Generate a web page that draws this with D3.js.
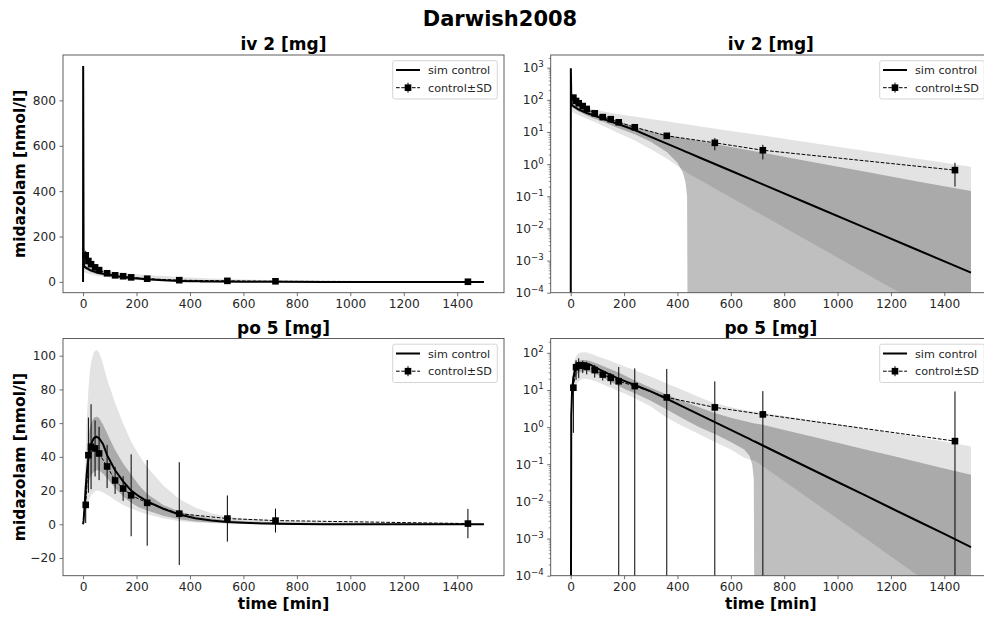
<!DOCTYPE html>
<html>
<head>
<meta charset="utf-8">
<script src="https://cdn.jsdelivr.net/npm/d3@7"></script>
<style>
  body { margin: 0; background: #fff; }
  svg { display: block; }
  text { font-family: "DejaVu Sans", sans-serif; }
</style>
</head>
<body>
<svg width="984" height="619"></svg>
<script>
// observed data (Darwish2008), time in min, midazolam in nmol/l
var obsTime = [10, 20, 30, 45, 60, 90, 120, 150, 180, 240, 360, 540, 720, 1440];
var ivObs   = [117, 92, 78, 64, 52, 38, 29, 25, 20, 14, 7.6, 4.6, 2.7, 0.65];
var ivObsSd = [20, 16, 12, 10, 8, 5, 4, 3.5, 3, 2.2, 1.5, 1.9, 1.3, 0.45];
var poObs   = [11.5, 41, 46, 45, 42, 34.3, 26, 21.2, 17.2, 12.7, 6.3, 3.4, 2.2, 0.42];
var poObsSd = [10.8, 22.3, 25.2, 16.6, 15.8, 12.8, 8, 7.3, 24.3, 25.4, 30.5, 13.7, 7.1, 8.7];

// simulation iv 2 mg
var ivSimTime  = [0, 0.5, 2, 4, 10, 20, 30, 45, 60, 90, 120, 150, 180, 240, 300, 360, 400, 420, 430, 436, 440, 480, 600, 720, 900, 1100, 1300, 1500];
var ivSimMean  = [0, 952, 150, 69, 63, 56, 50, 44, 39, 32, 26, 21, 17.3, 11.5, 7.06, 4.34, 3.14, 2.67, 2.46, 2.34, 2.27, 1.64, 0.62, 0.234, 0.0545, 0.0108, 0.00213, 0.00042];
var ivSimSdUp  = [0, 952, 160, 80, 72, 64, 58, 51, 46, 38, 31, 26, 21.5, 14.5, 10.5, 7.9, 6.9, 6.4, 6.2, 6.0, 5.97, 5.2, 3.4, 2.24, 1.19, 0.59, 0.29, 0.146];
var ivSimSdLow = [0, 952, 140, 60, 55, 49, 43, 37.5, 32.5, 26, 21, 16.5, 13, 8.5, 5.0, 2.4, 1.1, 0.55, 0.28, 0.1, -0.02, -0.3, -0.6, -0.5, -0.3, -0.2, -0.12, -0.08];
var ivSimMin   = [0, 900, 120, 42, 40, 36, 33, 29, 26, 20.5, 15.5, 12, 9.2, 5.4, 2.9, 1.5, 0.88, 0.67, 0.59, 0.54, 0.51, 0.333, 0.092, 0.0252, 0.00364, 4.2e-4, 4.9e-5, 5.8e-6];
var ivSimMax   = [0, 952, 200, 90, 86, 80, 74, 66, 59, 50, 44, 39.5, 35.9, 30.2, 25.5, 21.5, 19.1, 18.1, 17.6, 17.3, 17.1, 15.2, 10.8, 7.7, 4.6, 2.6, 1.47, 0.83];

// simulation po 5 mg
var poSimTime  = [0, 2, 5, 10, 15, 20, 25, 30, 40, 50, 60, 75, 90, 105, 120, 150, 180, 210, 240, 300, 360, 420, 480, 540, 600, 650, 670, 680, 686, 690, 720, 800, 900, 1000, 1100, 1200, 1300, 1400, 1500];
var poSimMean  = [0, 2, 9, 22, 32, 39, 44, 47.5, 51, 52, 51, 47.5, 41, 36.5, 32, 25.5, 20, 16.5, 13.6, 9.2, 5.8, 3.57, 2.2, 1.36, 0.84, 0.56, 0.48, 0.44, 0.42, 0.41, 0.32, 0.167, 0.0746, 0.0333, 0.0149, 0.00665, 0.00297, 0.00133, 0.00059];
var poSimSdUp  = [0, 3, 12, 30, 43, 51, 57, 60, 63, 64, 63, 59, 54, 49, 44, 36, 29.5, 23, 18, 11.5, 7.6, 5.0, 3.4, 2.4, 1.8, 1.45, 1.35, 1.3, 1.27, 1.25, 1.16, 0.84, 0.57, 0.38, 0.255, 0.171, 0.115, 0.077, 0.052];
var poSimSdLow = [0, 1, 6, 14, 20, 24, 27, 29, 31, 32, 32, 30, 27.5, 24.5, 21.5, 16.5, 12.8, 10, 8.2, 5.1, 3.0, 1.7, 1.0, 0.65, 0.4, 0.25, 0.17, 0.1, 0.04, -0.01, -0.1, -0.2, -0.25, -0.25, -0.2, -0.15, -0.12, -0.09, -0.06];
var poSimMin   = [0, 0.5, 2, 6, 10, 13, 15.5, 17, 19, 20, 19.8, 18.8, 17.5, 16, 14.3, 11.5, 9.3, 7.5, 6, 3.6, 1.8, 1.05, 0.65, 0.4, 0.25, 0.15, 0.135, 0.13, 0.127, 0.125, 0.0888, 0.0349, 0.0109, 0.0034, 0.00106, 3.3e-4, 1.03e-4, 3.2e-5, 1.0e-5];
var poSimMax   = [0, 4, 18, 45, 66, 80, 90, 96, 102, 103.5, 102, 95, 86, 79, 72, 60, 49, 41, 34, 23, 15, 10, 6.5, 4.4, 3.4, 2.9, 2.75, 2.7, 2.65, 2.63, 2.45, 2.0, 1.55, 1.2, 0.92, 0.7, 0.53, 0.41, 0.3];

// axes
var xDomain = [-75, 1575];
var xTicks = [0, 200, 400, 600, 800, 1000, 1200, 1400];
var ivLinDomain = [-47.6, 1000];
var ivLinTicks = [0, 200, 400, 600, 800];
var ivLogDomain = [1e-4, 2480];
var ivLogExp = [-4, -3, -2, -1, 0, 1, 2, 3];
var poLinDomain = [-30.5, 110.2];
var poLinTicks = [-20, 0, 20, 40, 60, 80, 100];
var poLogDomain = [1e-4, 243];
var poLogExp = [-4, -3, -2, -1, 0, 1, 2];

var svg = d3.select('svg');
var tickColor = '#262626';

function zip(time, cols) {
  return time.map(function (t, i) {
    var d = { t: t };
    Object.keys(cols).forEach(function (k) { d[k] = cols[k][i]; });
    return d;
  });
}

var ivSim = zip(ivSimTime, { mean: ivSimMean, up: ivSimSdUp, low: ivSimSdLow, min: ivSimMin, max: ivSimMax });
var poSim = zip(poSimTime, { mean: poSimMean, up: poSimSdUp, low: poSimSdLow, min: poSimMin, max: poSimMax });
var ivData = zip(obsTime, { v: ivObs, sd: ivObsSd });
var poData = zip(obsTime, { v: poObs, sd: poObsSd });

var panels = [
  { x0: 63, x1: 504, y0: 55, y1: 292.7, title: 'iv 2 [mg]', log: false, domain: ivLinDomain, ticks: ivLinTicks, sim: ivSim, data: ivData, ylabel: true, xlabel: false },
  { x0: 550.7, x1: 991, y0: 55, y1: 292.7, title: 'iv 2 [mg]', log: true, domain: ivLogDomain, ticks: ivLogExp, sim: ivSim, data: ivData, ylabel: false, xlabel: false },
  { x0: 63, x1: 504, y0: 338.5, y1: 575.7, title: 'po 5 [mg]', log: false, domain: poLinDomain, ticks: poLinTicks, sim: poSim, data: poData, ylabel: true, xlabel: true },
  { x0: 550.7, x1: 991, y0: 338.5, y1: 575.7, title: 'po 5 [mg]', log: true, domain: poLogDomain, ticks: poLogExp, sim: poSim, data: poData, ylabel: false, xlabel: true }
];

svg.append('text')
  .attr('x', 500).attr('y', 26)
  .attr('text-anchor', 'middle')
  .attr('font-size', 21).attr('font-weight', 'bold')
  .text('Darwish2008');

panels.forEach(function (p, i) {
  var x = d3.scaleLinear().domain(xDomain).range([p.x0, p.x1]);
  var y = p.log ? d3.scaleLog().domain(p.domain).range([p.y1, p.y0])
                : d3.scaleLinear().domain(p.domain).range([p.y1, p.y0]);
  var fy = function (v) { return p.log ? y(Math.max(v, 1e-9)) : y(v); };

  svg.append('clipPath').attr('id', 'clip' + i)
    .append('rect')
    .attr('x', p.x0).attr('y', p.y0)
    .attr('width', p.x1 - p.x0).attr('height', p.y1 - p.y0);

  var g = svg.append('g').attr('clip-path', 'url(#clip' + i + ')');

  // min-max band
  g.append('path').datum(p.sim)
    .attr('d', d3.area().x(function (d) { return x(d.t); })
      .y0(function (d) { return fy(d.min); }).y1(function (d) { return fy(d.max); }))
    .attr('fill', '#000').attr('fill-opacity', 0.11);

  // mean +- sd band
  g.append('path').datum(p.sim)
    .attr('d', d3.area().x(function (d) { return x(d.t); })
      .y0(function (d) { return fy(d.low); }).y1(function (d) { return fy(d.up); }))
    .attr('fill', '#000').attr('fill-opacity', 0.25);

  // simulation
  g.append('path').datum(p.sim)
    .attr('d', d3.line().x(function (d) { return x(d.t); }).y(function (d) { return fy(d.mean); }))
    .attr('fill', 'none').attr('stroke', '#000').attr('stroke-width', 2);

  // data
  g.append('path').datum(p.data)
    .attr('d', d3.line().x(function (d) { return x(d.t); }).y(function (d) { return fy(d.v); }))
    .attr('fill', 'none').attr('stroke', '#000').attr('stroke-width', 1)
    .attr('stroke-dasharray', '3.7,1.6');

  g.selectAll('.err').data(p.data).enter().append('line')
    .attr('x1', function (d) { return x(d.t); }).attr('x2', function (d) { return x(d.t); })
    .attr('y1', function (d) { return fy(d.v - d.sd); })
    .attr('y2', function (d) { return fy(d.v + d.sd); })
    .attr('stroke', '#000').attr('stroke-width', 1);

  g.selectAll('.pt').data(p.data).enter().append('rect')
    .attr('x', function (d) { return x(d.t) - 3.3; })
    .attr('y', function (d) { return fy(d.v) - 3.3; })
    .attr('width', 6.6).attr('height', 6.6)
    .attr('fill', '#000');

  // frame
  svg.append('rect')
    .attr('x', p.x0).attr('y', p.y0)
    .attr('width', p.x1 - p.x0).attr('height', p.y1 - p.y0)
    .attr('fill', 'none').attr('stroke', '#4d4d4d').attr('stroke-width', 0.9);

  // x axis
  var xa = svg.append('g').attr('transform', 'translate(0,' + p.y1 + ')')
    .call(d3.axisBottom(x).tickValues(xTicks).tickSize(3.5).tickPadding(3.5).tickFormat(d3.format('d')));
  xa.select('.domain').remove();

  // y axis
  var ya = svg.append('g').attr('transform', 'translate(' + p.x0 + ',0)');
  if (p.log) {
    var major = p.ticks.map(function (e) { return Math.pow(10, e); });
    ya.call(d3.axisLeft(y).tickValues(major).tickSize(3.5).tickFormat(''));
    var minor = [];
    p.ticks.forEach(function (e) {
      for (var k = 2; k < 10; k++) {
        var v = k * Math.pow(10, e);
        if (v < p.domain[1]) minor.push(v);
      }
    });
    var ym = svg.append('g').attr('transform', 'translate(' + p.x0 + ',0)')
      .call(d3.axisLeft(y).tickValues(minor).tickSize(2).tickFormat(''));
    ym.select('.domain').remove();
    ym.selectAll('line').attr('stroke', '#4d4d4d').attr('stroke-width', 0.6);
    p.ticks.forEach(function (e) {
      var t = svg.append('text')
        .attr('x', p.x0 - 7).attr('y', y(Math.pow(10, e)) + 4.5)
        .attr('text-anchor', 'end').attr('font-size', 12.2).attr('fill', tickColor)
        .text('10');
      t.append('tspan').attr('dy', -5).attr('font-size', 8.6)
        .text(e < 0 ? '\u2212' + (-e) : String(e));
    });
  } else {
    ya.call(d3.axisLeft(y).tickValues(p.ticks).tickSize(3.5).tickPadding(3.5)
      .tickFormat(function (v) { return v < 0 ? '\u2212' + (-v) : String(v); }));
  }
  ya.select('.domain').remove();

  [xa, ya].forEach(function (a) {
    a.selectAll('line').attr('stroke', '#4d4d4d').attr('stroke-width', 0.8);
    a.selectAll('text').attr('font-size', 12.2).attr('fill', tickColor)
      .attr('font-family', '"DejaVu Sans", sans-serif');
  });

  // title and labels
  svg.append('text')
    .attr('x', (p.x0 + p.x1) / 2).attr('y', p.y0 - 5)
    .attr('text-anchor', 'middle').attr('font-size', 17).attr('font-weight', 'bold')
    .text(p.title);
  if (p.ylabel) {
    svg.append('text')
      .attr('transform', 'translate(25,' + (p.y0 + p.y1) / 2 + ') rotate(-90)')
      .attr('text-anchor', 'middle').attr('font-size', 15.5).attr('font-weight', 'bold')
      .text('midazolam [nmol/l]');
  }
  if (p.xlabel) {
    svg.append('text')
      .attr('x', (p.x0 + p.x1) / 2).attr('y', p.y1 + 33)
      .attr('text-anchor', 'middle').attr('font-size', 15.5).attr('font-weight', 'bold')
      .text('time [min]');
  }

  // legend
  var lx = p.x1 - 6.7 - 104.6, ly = p.y0 + 5.7;
  var lg = svg.append('g');
  lg.append('rect').attr('x', lx).attr('y', ly).attr('width', 104.6).attr('height', 38.3)
    .attr('rx', 2).attr('fill', '#fff').attr('fill-opacity', 0.8)
    .attr('stroke', '#d0d0d0').attr('stroke-width', 0.9);
  var r1 = ly + 9.3, r2 = ly + 27;
  lg.append('line').attr('x1', lx + 3.3).attr('x2', lx + 27.3).attr('y1', r1).attr('y2', r1)
    .attr('stroke', '#000').attr('stroke-width', 2);
  lg.append('line').attr('x1', lx + 3.3).attr('x2', lx + 27.3).attr('y1', r2).attr('y2', r2)
    .attr('stroke', '#000').attr('stroke-width', 1).attr('stroke-dasharray', '3.7,1.6');
  lg.append('line').attr('x1', lx + 15.3).attr('x2', lx + 15.3).attr('y1', r2 - 5).attr('y2', r2 + 5)
    .attr('stroke', '#000').attr('stroke-width', 1);
  lg.append('rect').attr('x', lx + 12).attr('y', r2 - 3.3).attr('width', 6.6).attr('height', 6.6)
    .attr('fill', '#000');
  lg.append('text').attr('x', lx + 35.3).attr('y', r1 + 4).attr('font-size', 11.2).attr('fill', tickColor)
    .text('sim control');
  lg.append('text').attr('x', lx + 35.3).attr('y', r2 + 4).attr('font-size', 11.2).attr('fill', tickColor)
    .text('control\u00b1SD');
});
</script>
</body>
</html>
